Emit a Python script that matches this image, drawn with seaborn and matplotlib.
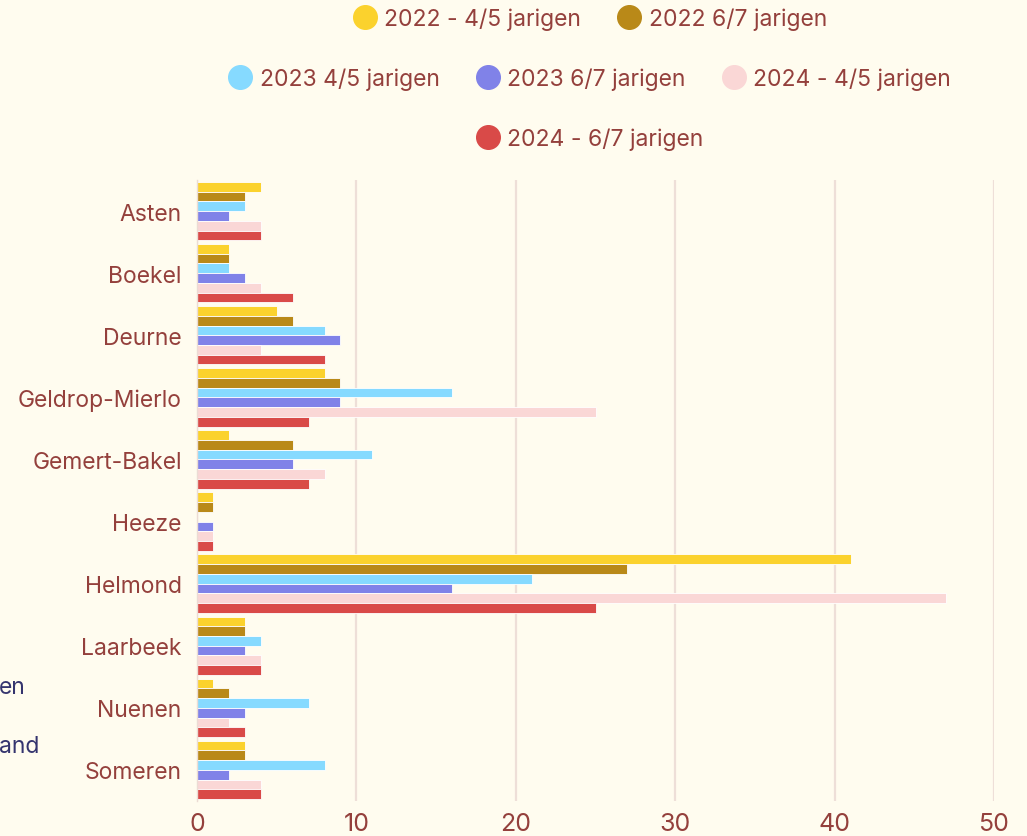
import matplotlib
matplotlib.use("Agg")
import matplotlib.pyplot as plt
from matplotlib.lines import Line2D
import seaborn as sns
import pandas as pd

gemeenten = ["Asten", "Boekel", "Deurne", "Geldrop-Mierlo", "Gemert-Bakel",
             "Heeze", "Helmond", "Laarbeek", "Nuenen", "Someren"]
series_names = ["2022 - 4/5 jarigen", "2022 6/7 jarigen", "2023 4/5 jarigen",
                "2023 6/7 jarigen", "2024 - 4/5 jarigen", "2024 - 6/7 jarigen"]
v2022_45 = [4, 2, 5, 8, 2, 1, 41, 3, 1, 3]
v2022_67 = [3, 2, 6, 9, 6, 1, 27, 3, 2, 3]
v2023_45 = [3, 2, 8, 16, 11, 0, 21, 4, 7, 8]
v2023_67 = [2, 3, 9, 9, 6, 1, 16, 3, 3, 2]
v2024_45 = [4, 4, 4, 25, 8, 1, 47, 4, 2, 4]
v2024_67 = [4, 6, 8, 7, 7, 1, 25, 4, 3, 4]
x_ticks = [0, 10, 20, 30, 40, 50]

colors = ["#FBD22D", "#B98918", "#86DAFF", "#8082E8", "#FAD7D6", "#D94A48"]
bg = "#FFFCEF"
txt = "#94403C"

rows = []
for name, vals in zip(series_names, [v2022_45, v2022_67, v2023_45, v2023_67, v2024_45, v2024_67]):
    for g, v in zip(gemeenten, vals):
        rows.append({"gemeente": g, "reeks": name, "waarde": v})
df = pd.DataFrame(rows)

sns.set_theme(style="white")
plt.rcParams["font.family"] = ["Inter", "DejaVu Sans"]

fig = plt.figure(figsize=(10.27, 8.37), dpi=100, facecolor=bg)
ax = fig.add_axes([197/1027, 1 - 802/837, (994 - 197)/1027, (802 - 181)/837])
ax.set_facecolor(bg)

sns.barplot(data=df, y="gemeente", x="waarde", hue="reeks", order=gemeenten,
            hue_order=series_names, palette=colors, orient="h", width=0.94,
            edgecolor="#ffffff", linewidth=0.6, saturation=1, ax=ax, legend=True)
ax.get_legend().remove()

ax.set_xlim(0, 50)
ax.set_ylim(9.5, -0.5)
ax.set_xticks(x_ticks)
ax.set_xticklabels([str(t) for t in x_ticks])
ax.set_xlabel("")
ax.set_ylabel("")
for s in ["top", "right", "bottom"]:
    ax.spines[s].set_visible(False)
ax.spines["left"].set_color("#EBDCD4")
ax.spines["left"].set_linewidth(1)
ax.grid(axis="x", color="#EEDFD8", linewidth=1.6)
ax.set_axisbelow(True)
ax.tick_params(axis="both", length=0, colors=txt)
ax.tick_params(axis="y", pad=11, labelsize=16.5)
ax.tick_params(axis="x", pad=8, labelsize=18)

# legend in three centered rows
def handle(c):
    return Line2D([], [], linestyle="none", marker="o", markersize=17,
                  markerfacecolor=c, markeredgecolor=c)

groups = [[0, 1], [2, 3, 4], [5]]
ys = [1 - 20/837, 1 - 80/837, 1 - 140/837]
for grp, yy in zip(groups, ys):
    leg = fig.legend([handle(colors[i]) for i in grp], [series_names[i] for i in grp],
                     loc="center", bbox_to_anchor=(590/1027, yy), ncol=len(grp),
                     frameon=False, fontsize=16.5, handletextpad=0.35, columnspacing=1.6,
                     handlelength=1.0, borderaxespad=0)
    for t in leg.get_texts():
        t.set_color(txt)

# cut-off text at left edge
fig.text(26/1027, 1 - 688/837, "en", ha="right", va="center", color="#34346E", fontsize=16.5)
fig.text(39/1027, 1 - 747/837, "and", ha="right", va="center", color="#34346E", fontsize=16.5)

fig.savefig("out.png", dpi=100, facecolor=bg)
